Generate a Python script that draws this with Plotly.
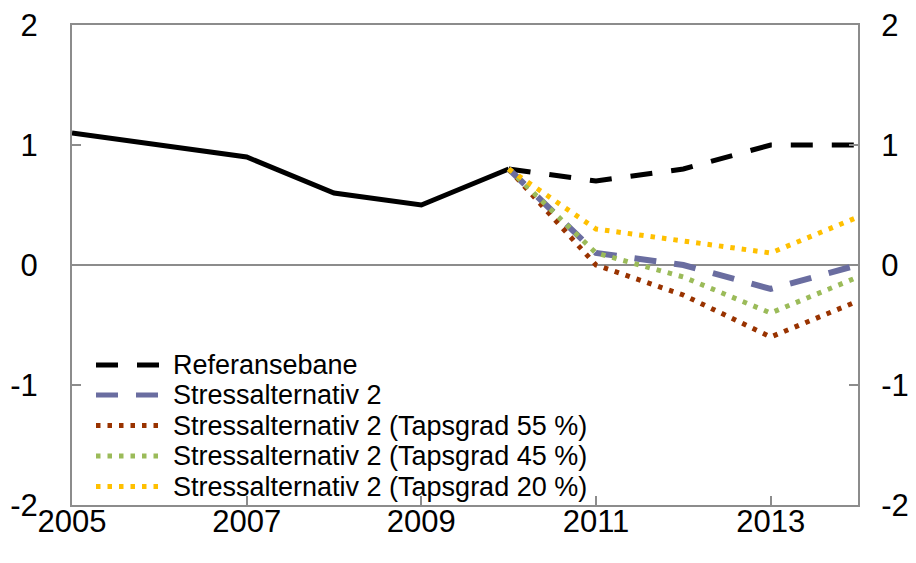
import plotly.graph_objects as go

# ---- data ----
years_hist = [2005, 2006, 2007, 2008, 2009, 2010]
hist = [1.1, 1.0, 0.9, 0.6, 0.5, 0.8]

years_proj = [2010, 2011, 2012, 2013, 2014]
referansebane = [0.8, 0.7, 0.8, 1.0, 1.0]
stress2 = [0.8, 0.1, 0.0, -0.2, 0.0]
stress2_55 = [0.8, 0.0, -0.25, -0.6, -0.3]
stress2_45 = [0.8, 0.1, -0.1, -0.4, -0.1]
stress2_20 = [0.8, 0.3, 0.2, 0.1, 0.4]

x_tickvals = [2005, 2007, 2009, 2011, 2013]
x_ticktext = ["2005", "2007", "2009", "2011", "2013"]
y_tickvals = [-2, -1, 0, 1, 2]
y_ticktext = ["-2", "-1", "0", "1", "2"]

names = ["Referansebane", "Stressalternativ 2",
         "Stressalternativ 2 (Tapsgrad 55 %)",
         "Stressalternativ 2 (Tapsgrad 45 %)",
         "Stressalternativ 2 (Tapsgrad 20 %)"]
series = [referansebane, stress2, stress2_55, stress2_45, stress2_20]
colors = ["#000000", "#6A6DA0", "#993300", "#9BBB59", "#FFC000"]
widths = [5, 6, 5, 5, 5]
dashes = ["22px,19px", "22px,18px", "4.5px,7px", "4.5px,7px", "4.5px,7px"]

# page body has an 8px margin; figure is sized so that the plot lands in place
OFF = 8
W, H = 916 - OFF, 563 - OFF
L, R, T, B = 72 - OFF, 58, 25 - OFF, 58
PW, PH = W - L - R, H - T - B
GRAY = "#8C8C8C"
FONT = "Liberation Sans, Arial, sans-serif"

fig = go.Figure()
fig.add_trace(go.Scatter(x=years_hist, y=hist, mode="lines",
                         line=dict(color="#000000", width=5),
                         showlegend=False, hoverinfo="skip"))
for i, (nm, ys) in enumerate(zip(names, series)):
    fig.add_trace(go.Scatter(x=years_proj, y=ys, mode="lines", name=nm,
                             line=dict(color=colors[i], width=widths[i], dash=dashes[i]),
                             showlegend=False,
                             yaxis="y2" if i == len(names) - 1 else "y"))

# custom legend (positions given in page pixels, converted to paper coords)
rows_px = [365, 395, 425.5, 456, 486.5]
def px_x(p):
    return (p - OFF - L) / PW
def px_y(p):
    return (OFF + H - B - p) / PH

for i, nm in enumerate(names):
    yy = px_y(rows_px[i])
    fig.add_shape(type="line", xref="paper", yref="paper",
                  x0=px_x(96), x1=px_x(160), y0=yy, y1=yy,
                  line=dict(color=colors[i], width=widths[i] if i != 1 else 5, dash=dashes[i]))
    fig.add_annotation(xref="paper", yref="paper", x=px_x(171), y=yy,
                       text=nm, showarrow=False, xanchor="left", yanchor="middle",
                       font=dict(family=FONT, size=27, color="#000000"))

axis_common = dict(showgrid=False, showline=True, linecolor=GRAY, linewidth=2,
                   ticks="inside", tickcolor=GRAY, tickwidth=2, ticklen=9,
                   automargin=False, ticklabeloverflow="allow",
                   tickfont=dict(family=FONT, size=31, color="#000000"))

fig.update_layout(
    width=W, height=H,
    margin=dict(l=L, r=R, t=T, b=B),
    paper_bgcolor="white", plot_bgcolor="white",
    showlegend=False,
    xaxis=dict(range=[2005, 2014], tickvals=x_tickvals, ticktext=x_ticktext,
               mirror=True, zeroline=False, ticklabelstandoff=-12, **axis_common),
    yaxis=dict(range=[-2, 2], tickvals=y_tickvals, ticktext=y_ticktext,
               zeroline=True, zerolinecolor=GRAY, zerolinewidth=2,
               ticklabelstandoff=26, **axis_common),
    yaxis2=dict(range=[-2, 2], tickvals=y_tickvals, ticktext=y_ticktext,
                overlaying="y", side="right", zeroline=False,
                ticklabelstandoff=15, **axis_common),
)

fig.write_html("out.html")
